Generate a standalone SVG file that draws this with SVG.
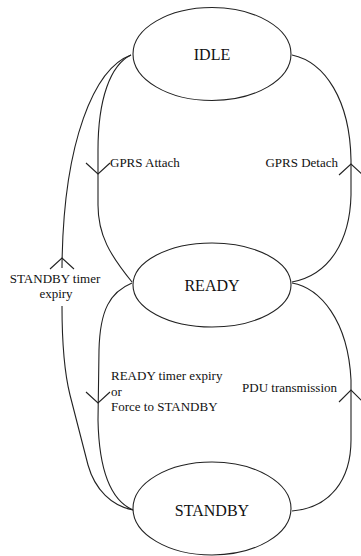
<svg xmlns="http://www.w3.org/2000/svg" width="361" height="556" viewBox="0 0 361 556">
  <style>
    .state { fill: #ffffff; stroke: #222222; stroke-width: 1.1; }
    .state-label { font-family: "Liberation Serif", "Times New Roman", serif; font-size: 16px; fill: #111111; text-anchor: middle; }
    .edge { fill: none; stroke: #222222; stroke-width: 1.1; }
    .head { fill: none; stroke: #222222; stroke-width: 1.1; stroke-linejoin: miter; }
    .edge-label { font-family: "Liberation Serif", "Times New Roman", serif; font-size: 13px; fill: #111111; }
  </style>

  <rect width="361" height="556" fill="#ffffff"/>

  <!-- transitions -->
  <g id="connectors">
    <!-- STANDBY -> IDLE : STANDBY timer expiry (outer left, broken around its label) -->
    <g id="edge-standby-idle">
      <path class="edge" d="M131,55 C95,68 63,140 62,268"/>
      <path class="edge" d="M62,306 C62,350 65,375 70,395 L88,465 C95,490 112,506 133,510"/>
      <polyline class="head" points="50,269 62,258 74,269"/>
      <text class="edge-label" x="55" y="283" text-anchor="middle">STANDBY timer</text>
      <text class="edge-label" x="56" y="298" text-anchor="middle">expiry</text>
    </g>

    <!-- IDLE -> READY : GPRS Attach -->
    <g id="edge-idle-ready">
      <path class="edge" d="M131,55 C110,65 98,100 98,150 L98,205 C98,235 110,255 132,282"/>
      <polyline class="head" points="86,163 98,174 110,163"/>
      <text class="edge-label" x="110" y="167">GPRS Attach</text>
    </g>

    <!-- READY -> IDLE : GPRS Detach -->
    <g id="edge-ready-idle">
      <path class="edge" d="M292,55 C325,62 350,100 351,160 L351,195 C350,240 330,275 292,282"/>
      <polyline class="head" points="339,175 351,164 363,175"/>
      <text class="edge-label" x="338" y="167" text-anchor="end">GPRS Detach</text>
    </g>

    <!-- READY -> STANDBY : READY timer expiry or Force to STANDBY -->
    <g id="edge-ready-standby">
      <path class="edge" d="M132,283 C110,292 100,310 99,350 L98,420 C99,470 110,500 133,510"/>
      <polyline class="head" points="86,392 98,403 110,392"/>
      <text class="edge-label" x="111" y="380">READY timer expiry</text>
      <text class="edge-label" x="111" y="396">or</text>
      <text class="edge-label" x="111" y="411">Force to STANDBY</text>
    </g>

    <!-- STANDBY -> READY : PDU transmission -->
    <g id="edge-standby-ready">
      <path class="edge" d="M292,283 C320,288 348,320 351,380 L351,440 C351,480 330,508 292,511"/>
      <polyline class="head" points="339,402 351,390 363,402"/>
      <text class="edge-label" x="337" y="392" text-anchor="end">PDU transmission</text>
    </g>
  </g>

  <!-- states -->
  <g id="idle">
    <ellipse class="state" cx="212" cy="54" rx="79" ry="46.5"/>
    <text class="state-label" x="212" y="60">IDLE</text>
  </g>

  <g id="ready">
    <ellipse class="state" cx="212" cy="285" rx="79" ry="42"/>
    <text class="state-label" x="212" y="291">READY</text>
  </g>

  <g id="standby">
    <ellipse class="state" cx="212" cy="508.5" rx="79" ry="46.5"/>
    <text class="state-label" x="212" y="516">STANDBY</text>
  </g>
</svg>
